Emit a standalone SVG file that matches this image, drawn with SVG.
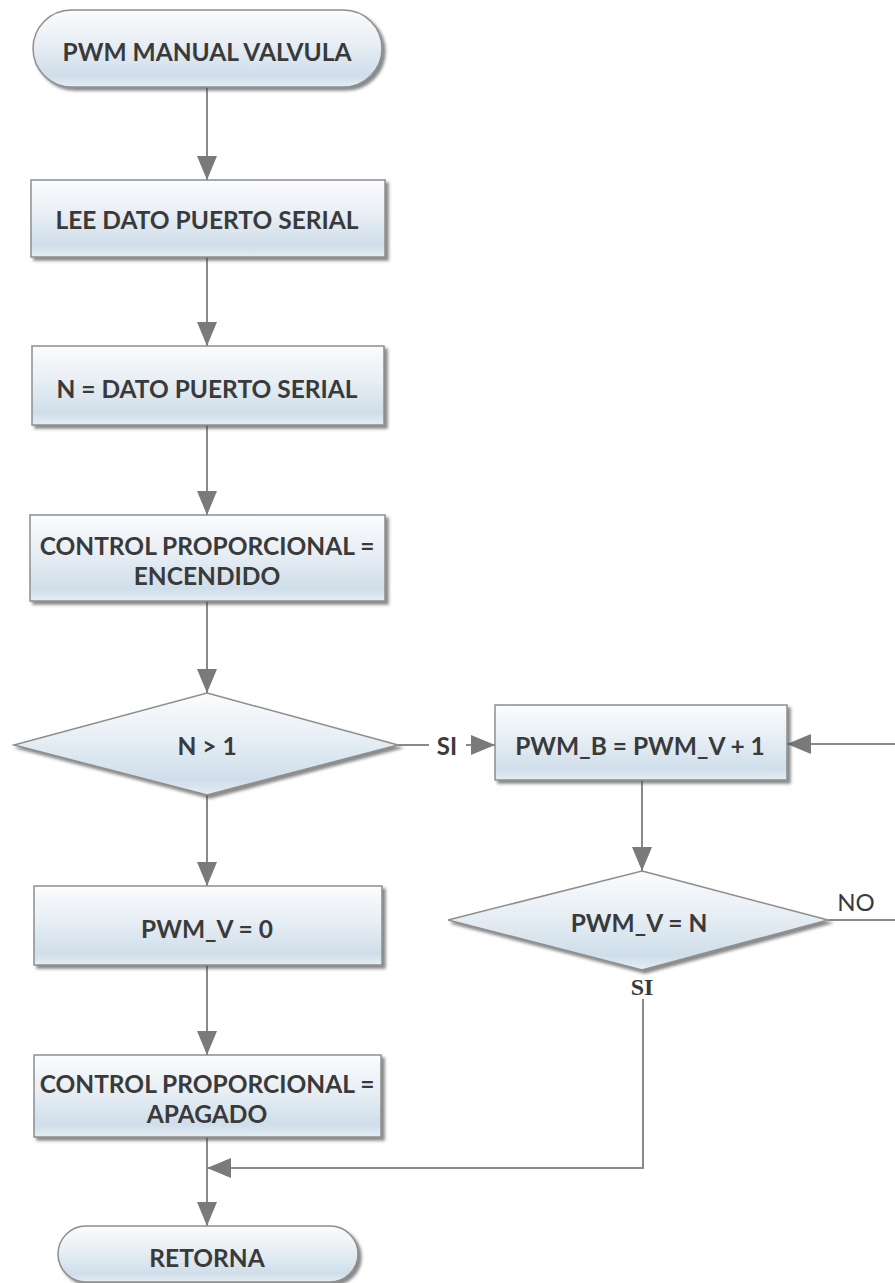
<svg xmlns="http://www.w3.org/2000/svg" width="895" height="1283" viewBox="0 0 895 1283">
  <defs>
    <linearGradient id="fillGrad" x1="0" y1="0" x2="0" y2="1">
      <stop offset="0" stop-color="#fbfcfd"/>
      <stop offset="0.45" stop-color="#e7eef4"/>
      <stop offset="0.85" stop-color="#cfdeea"/>
      <stop offset="1" stop-color="#e4edf3"/>
    </linearGradient>
    <filter id="shadow" x="-10%" y="-10%" width="125%" height="135%">
      <feDropShadow dx="3" dy="3" stdDeviation="1.6" flood-color="#4a4a4a" flood-opacity="0.65"/>
    </filter>
    <marker id="arrow" viewBox="0 0 24 20" refX="24" refY="10" markerWidth="24" markerHeight="20" markerUnits="userSpaceOnUse" orient="auto">
      <path d="M0,0 L24,10 L0,20 Z" fill="#7a7a7a"/>
    </marker>
  </defs>
  <style>
    .shape { fill: url(#fillGrad); stroke: #8e8e8e; stroke-width: 1.5; filter: url(#shadow); }
    .label { font-family: Lato, "Liberation Sans", sans-serif; font-weight: bold; font-size: 24.5px; fill: #3a3a3a; text-anchor: middle; dominant-baseline: central; }
    .edge { fill: none; stroke: #8a8a8a; stroke-width: 2; }
    .tag { font-family: Lato, "Liberation Sans", sans-serif; font-size: 24px; fill: #3a3a3a; text-anchor: middle; dominant-baseline: central; }
  </style>
  <rect width="895" height="1283" fill="#ffffff"/>

  <g id="connectors">
    <line class="edge" x1="207" y1="87" x2="207" y2="180" marker-end="url(#arrow)"/>
    <line class="edge" x1="207" y1="257" x2="207" y2="346" marker-end="url(#arrow)"/>
    <line class="edge" x1="207" y1="425" x2="207" y2="515" marker-end="url(#arrow)"/>
    <line class="edge" x1="207" y1="601" x2="207" y2="693" marker-end="url(#arrow)"/>
    <line class="edge" x1="207" y1="795" x2="207" y2="886" marker-end="url(#arrow)"/>
    <line class="edge" x1="207" y1="965" x2="207" y2="1055" marker-end="url(#arrow)"/>
    <line class="edge" x1="207" y1="1137" x2="207" y2="1226" marker-end="url(#arrow)"/>
    <!-- N > 1 : SI branch -->
    <line class="edge" x1="398" y1="745" x2="429" y2="745"/>
    <line class="edge" x1="466" y1="745" x2="495" y2="745" marker-end="url(#arrow)"/>
    <text class="tag" x="447" y="745" font-weight="bold">SI</text>
    <!-- loop back into PWM_B -->
    <line class="edge" x1="895" y1="744" x2="787" y2="744" marker-end="url(#arrow)"/>
    <line class="edge" x1="642" y1="780" x2="642" y2="871" marker-end="url(#arrow)"/>
    <!-- PWM_V = N : NO branch -->
    <line class="edge" x1="828" y1="920" x2="895" y2="920"/>
    <text class="tag" x="856" y="901">NO</text>
    <!-- PWM_V = N : SI branch -->
    <text x="642" y="987" font-family="'Liberation Serif', serif" font-weight="bold" font-size="24" fill="#3a3a3a" text-anchor="middle" dominant-baseline="central">SI</text>
    <polyline class="edge" points="643,999 643,1168 207,1168" marker-end="url(#arrow)"/>
  </g>

  <g id="start">
    <rect class="shape" x="33" y="10" width="349" height="77" rx="38.5" ry="38.5"/>
    <text class="label" x="207" y="51">PWM MANUAL VALVULA</text>
  </g>

  <g id="lee-dato">
    <rect class="shape" x="31" y="180" width="354" height="77"/>
    <text class="label" x="207" y="219">LEE DATO PUERTO SERIAL</text>
  </g>

  <g id="n-dato">
    <rect class="shape" x="32" y="346" width="352" height="79"/>
    <text class="label" x="207" y="388">N = DATO PUERTO SERIAL</text>
  </g>

  <g id="control-encendido">
    <rect class="shape" x="30" y="515" width="355" height="86"/>
    <text class="label" x="207" y="545">CONTROL PROPORCIONAL =</text>
    <text class="label" x="207" y="575">ENCENDIDO</text>
  </g>

  <g id="decision-n">
    <polygon class="shape" points="207,693 398,745 207,795 14,745"/>
    <text class="label" x="207" y="745">N &gt; 1</text>
  </g>

  <g id="pwm-b">
    <rect class="shape" x="495" y="705" width="292" height="75"/>
    <text class="label" x="640" y="745">PWM_B = PWM_V + 1</text>
  </g>

  <g id="decision-pwm">
    <polygon class="shape" points="642,871 828,920 642,970 448,920"/>
    <text class="label" x="639" y="922">PWM_V = N</text>
  </g>

  <g id="pwm-v-zero">
    <rect class="shape" x="34" y="886" width="348" height="79"/>
    <text class="label" x="207" y="928">PWM_V = 0</text>
  </g>

  <g id="control-apagado">
    <rect class="shape" x="34" y="1055" width="347" height="82"/>
    <text class="label" x="207" y="1083">CONTROL PROPORCIONAL =</text>
    <text class="label" x="207" y="1113">APAGADO</text>
  </g>

  <g id="retorna">
    <rect class="shape" x="58" y="1226" width="300" height="56" rx="28" ry="28"/>
    <text class="label" x="207" y="1257">RETORNA</text>
  </g>
</svg>
